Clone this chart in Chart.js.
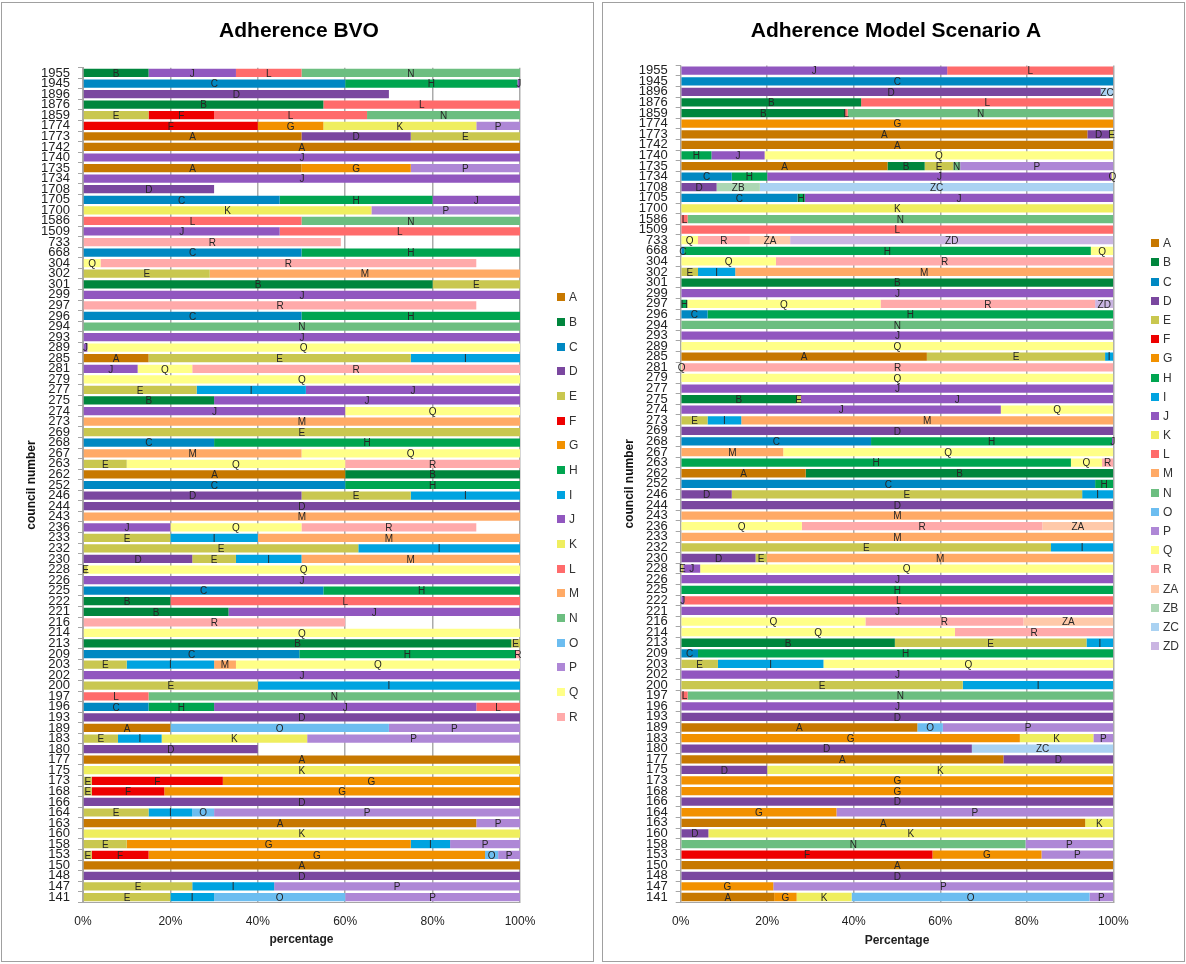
<!DOCTYPE html>
<html>
<head>
<meta charset="utf-8">
<title>Adherence</title>
<script src="https://cdn.jsdelivr.net/npm/chart.js@4/dist/chart.umd.min.js"></script>
<style>
  html, body { margin: 0; padding: 0; background: #fff; }
  body { width: 1186px; height: 964px; position: relative; overflow: hidden;
         font-family: "Liberation Sans", Arial, sans-serif; }
  .panel { position: absolute; top: 2px; height: 958px; border: 1px solid #a0a0a0; background: #fff; }
  #panelBvo { left: 1px; width: 591px; }
  #panelScen { left: 602px; width: 581px; }
  .panel canvas { position: absolute; left: 0; top: 0; }
  .legend { position: absolute; font-size: 12px; color: #333; }
  .legend .item { position: absolute; left: 0; height: 12px; line-height: 12px; white-space: nowrap; }
  .legend .sw { position: absolute; left: 0; top: 2px; width: 8px; height: 8px; }
  .legend .tx { position: absolute; left: 12px; top: 0; }
</style>
</head>
<body>
<div class="panel" id="panelBvo"><canvas id="chartBvo" width="591" height="958"></canvas></div>
<div class="panel" id="panelScen"><canvas id="chartScen" width="581" height="958"></canvas></div>
<div class="legend" id="legendBvo" style="left:557px;top:0;"></div>
<div class="legend" id="legendScen" style="left:1151px;top:0;"></div>
<script>
// Council numbers, top row first
const COUNCILS = ['1955','1945','1896','1876','1859','1774','1773','1742','1740','1735','1734','1708','1705','1700','1586','1509','733','668','304','302','301','299','297','296','294','293','289','285','281','279','277','275','274','273','269','268','267','263','262','252','246','244','243','236','233','232','230','228','226','225','222','221','216','214','213','209','203','202','200','197','196','193','189','183','180','177','175','173','168','166','164','163','160','158','153','150','148','147','141'];

// Category letters of each chart, in stacking order
const BVO_SERIES = ['A','B','C','D','E','F','G','H','I','J','K','L','M','N','O','P','Q','R'];
const SCEN_SERIES = ['A','B','C','D','E','F','G','H','I','J','K','L','M','N','O','P','Q','R','ZA','ZB','ZC','ZD'];

const SERIES_COLORS = {
  A:'#C77800', B:'#00863D', C:'#0088C2', D:'#7A479F', E:'#C9C74F', F:'#EE0000',
  G:'#F29100', H:'#00A550', I:'#00A3E0', J:'#9157BF', K:'#EFEE5F', L:'#FF6B6B',
  M:'#FFAA66', N:'#6CBE80', O:'#6CBDF0', P:'#AE87D6', Q:'#FFFF88', R:'#FFAAAA',
  ZA:'#FFC9A9', ZB:'#ACD7B4', ZC:'#AAD2F2', ZD:'#CAB5E2'
};

const PERCENT_TICK_STEP = 20;

// Percentage per category for each council (same order as COUNCILS)
const BVO_ROWS = [
  'B15 J20 L15 N50',          // 1955
  'C60 H39.4 J0.6',           // 1945
  'D70',                      // 1896
  'B55 L45',                  // 1876
  'E15 F15 L35 N35',          // 1859
  'F40 G15 K35 P10',          // 1774
  'A50 D25 E25',              // 1773
  'A100',                     // 1742
  'J100',                     // 1740
  'A50 G25 P25',              // 1735
  'J100',                     // 1734
  'D30',                      // 1708
  'C45 H35 J20',              // 1705
  'K66 P34',                  // 1700
  'L50 N50',                  // 1586
  'J45 L55',                  // 1509
  'R59',                      // 733
  'C50 H50',                  // 668
  'Q4 R86',                   // 304
  'E29 M71',                  // 302
  'B80 E20',                  // 301
  'J100',                     // 299
  'R90',                      // 297
  'C50 H50',                  // 296
  'N100',                     // 294
  'J100',                     // 293
  'J1 Q99',                   // 289
  'A15 E60 I25',              // 285
  'J12.5 Q12.5 R75',          // 281
  'Q100',                     // 279
  'E26 I25 J49',              // 277
  'B30 J70',                  // 275
  'J60 Q40',                  // 274
  'M100',                     // 273
  'E100',                     // 269
  'C30 H70',                  // 268
  'M50 Q50',                  // 267
  'E10 Q50 R40',              // 263
  'A60 B40',                  // 262
  'C60 H40',                  // 252
  'D50 E25 I25',              // 246
  'D100',                     // 244
  'M100',                     // 243
  'J20 Q30 R40',              // 236
  'E20 I20 M60',              // 233
  'E63 I37',                  // 232
  'D25 E10 I15 M50',          // 230
  'E1 Q99',                   // 228
  'J100',                     // 226
  'C55 H45',                  // 225
  'B20 L80',                  // 222
  'B33.3 J66.7',              // 221
  'R60',                      // 216
  'Q100',                     // 214
  'B98 E2',                   // 213
  'C49.5 H49.5 R1',           // 209
  'E10 I20 M5 Q65',           // 203
  'J100',                     // 202
  'E40 I60',                  // 200
  'L15 N85',                  // 197
  'C15 H15 J60 L10',          // 196
  'D100',                     // 193
  'A20 O50 P30',              // 189
  'E8 I10 K33.3 P48.7',       // 183
  'D40',                      // 180
  'A100',                     // 177
  'K100',                     // 175
  'E2 F30 G68',               // 173
  'E2 F16.6 G81.4',           // 168
  'D100',                     // 166
  'E15 I10 O5 P70',           // 164
  'A90 P10',                  // 163
  'K100',                     // 160
  'E10 G65 I9 P16',           // 158
  'E2 F13 G77 O3 P5',         // 153
  'A100',                     // 150
  'D100',                     // 148
  'E25 I18.75 P56.25',        // 147
  'E20 I10 O30 P40'           // 141
];

const SCEN_ROWS = [
  'J61.6 L38.4',              // 1955
  'C100',                     // 1945
  'D97.1 ZC2.9',              // 1896
  'B41.7 L58.3',              // 1876
  'B38 L0.6 N61.4',           // 1859
  'G100',                     // 1774
  'A94 D5.2 E0.8',            // 1773
  'A100',                     // 1742
  'H7.1 J12.3 Q80.6',         // 1740
  'A47.8 B8.6 E6.6 N1.6 P35.4', // 1735
  'C11.8 H8.2 J79.6 Q0.4',    // 1734
  'D8.3 ZB10 ZC81.7',         // 1708
  'C27 H1.7 J71.3',           // 1705
  'K100',                     // 1700
  'L1.6 N98.4',               // 1586
  'L100',                     // 1509
  'Q4 R12 ZA9.3 ZD74.7',      // 733
  'C0.8 H94 Q5.2',            // 668
  'Q22 R78',                  // 304
  'E4 I8.6 M87.4',            // 302
  'B100',                     // 301
  'J100',                     // 299
  'H1.5 Q44.7 R49.6 ZD4.2',   // 297
  'C6.2 H93.8',               // 296
  'N100',                     // 294
  'J100',                     // 293
  'Q100',                     // 289
  'A56.9 E41.2 I1.9',         // 285
  'Q0.3 R99.7',               // 281
  'Q100',                     // 279
  'J100',                     // 277
  'B26.7 E1.1 J72.2',         // 275
  'J74 Q26',                  // 274
  'E6.2 I7.8 M86',            // 273
  'D100',                     // 269
  'C44 H55.7 J0.3',           // 268
  'M23.7 Q76.3',              // 267
  'H90.2 Q7.2 R2.6',          // 263
  'A28.9 B71.1',              // 262
  'C95.8 H4.2',               // 252
  'D11.8 E81 I7.2',           // 246
  'D100',                     // 244
  'M100',                     // 243
  'Q28 R55.6 ZA16.4',         // 236
  'M100',                     // 233
  'E85.6 I14.4',              // 232
  'D17.3 E2.6 M80.1',         // 230
  'E0.6 J3.9 Q95.5',          // 228
  'J100',                     // 226
  'H100',                     // 225
  'J0.8 L99.2',               // 222
  'J100',                     // 221
  'Q42.7 R36.5 ZA20.8',       // 216
  'Q63.4 R36.6',              // 214
  'B49.5 E44.3 I6.2',         // 213
  'C4 H96',                   // 209
  'E8.6 I24.4 Q67',           // 203
  'J100',                     // 202
  'E65.2 I34.8',              // 200
  'L1.6 N98.4',               // 197
  'J100',                     // 196
  'D100',                     // 193
  'A54.7 O5.9 P39.4',         // 189
  'G78.4 K17 P4.6',           // 183
  'D67.3 ZC32.7',             // 180
  'A74.6 D25.4',              // 177
  'D20 K80',                  // 175
  'G100',                     // 173
  'G100',                     // 168
  'D100',                     // 166
  'G36 P64',                  // 164
  'A93.5 K6.5',               // 163
  'D6.4 K93.6',               // 160
  'N79.7 P20.3',              // 158
  'F58.2 G25.2 P16.6',        // 153
  'A100',                     // 150
  'D100',                     // 148
  'G21.4 P78.6',              // 147
  'A21.6 G5.2 K12.7 O55 P5.5' // 141
];

const FONT_FAMILY = '"Liberation Sans", Arial, sans-serif';
Chart.defaults.font.family = FONT_FAMILY;

// Turn the row strings into one value list per category letter
function buildDatasets(rows, series) {
  const parsed = rows.map(r => {
    const m = {};
    r.trim().split(/\s+/).forEach(tok => {
      const hit = tok.match(/^([A-Z]+)([\d.]+)$/);
      if (hit) m[hit[1]] = parseFloat(hit[2]);
    });
    return m;
  });
  return series.map(s => ({
    label: s,
    data: parsed.map(m => m[s] || 0),
    backgroundColor: SERIES_COLORS[s],
    borderWidth: 0,
    yAxisID: 'y',
    stack: 'share'
  }));
}

// Writes each category letter in the middle of its bar segment
const segmentLabels = {
  id: 'segmentLabels',
  afterDatasetsDraw(chart) {
    const ctx = chart.ctx;
    ctx.save();
    ctx.font = '10px ' + FONT_FAMILY;
    ctx.fillStyle = '#262626';
    ctx.textAlign = 'center';
    ctx.textBaseline = 'middle';
    chart.data.datasets.forEach((ds, di) => {
      const meta = chart.getDatasetMeta(di);
      if (meta.hidden) return;
      meta.data.forEach((el, i) => {
        if (!ds.data[i]) return;
        const p = el.getProps(['x', 'base', 'y'], true);
        ctx.fillText(ds.label, (p.x + p.base) / 2, p.y + 1);
      });
    });
    ctx.restore();
  }
};

function makeChart(canvasId, rows, series, cfg) {
  return new Chart(document.getElementById(canvasId), {
    type: 'bar',
    data: { labels: COUNCILS, datasets: buildDatasets(rows, series) },
    plugins: [segmentLabels],
    options: {
      indexAxis: 'y',
      responsive: false,
      animation: false,
      devicePixelRatio: 1,
      layout: { padding: { left: cfg.padLeft, right: 0, top: 0, bottom: cfg.padBottom } },
      datasets: { bar: { barPercentage: 0.78, categoryPercentage: 1 } },
      plugins: {
        legend: { display: false },
        tooltip: { enabled: false },
        title: {
          display: true, text: cfg.title, color: '#000',
          font: { family: FONT_FAMILY, size: 21, weight: 'bold' },
          padding: { top: 16, bottom: cfg.titleGap }
        }
      },
      scales: {
        x: {
          stacked: true, min: 0, max: 100,
          ticks: { stepSize: PERCENT_TICK_STEP, callback: v => v + '%', color: '#222',
                   font: { size: 12 }, padding: 12.5, maxRotation: 0 },
          grid: { color: '#ababab', lineWidth: 1.5, drawTicks: false },
          border: { color: '#a6a6a6' },
          title: { display: true, text: cfg.xTitle, color: '#222',
                   font: { size: 12, weight: 'bold' }, padding: { top: 4, bottom: 4 } },
          afterFit: s => { s.height = cfg.xHeight; }
        },
        y: {
          stacked: true,
          ticks: { autoSkip: false, color: '#222', font: { size: 13 }, padding: 8 },
          grid: { drawOnChartArea: false, tickLength: 5, color: '#a6a6a6' },
          border: { color: '#a6a6a6' },
          title: { display: true, text: 'council number', color: '#111',
                   font: { size: 12, weight: 'bold' }, padding: { top: cfg.yTitleGap, bottom: 4 } },
          afterFit: s => { s.width = cfg.yWidth; }
        },
        // empty right-hand band that keeps room for the key list
        keyBand: {
          type: 'category', axis: 'y', position: 'right', display: true,
          ticks: { display: false },
          grid: { display: false, drawTicks: false },
          border: { display: false },
          afterFit: s => { s.width = cfg.keyWidth; }
        }
      }
    }
  });
}

makeChart('chartBvo', BVO_ROWS, BVO_SERIES, {
  title: 'Adherence BVO', xTitle: 'percentage',
  padLeft: 3, padBottom: 9.8, titleGap: 23.5, xHeight: 48.9,
  yWidth: 78, yTitleGap: 19.8, keyWidth: 73
});
makeChart('chartScen', SCEN_ROWS, SCEN_SERIES, {
  title: 'Adherence Model Scenario A', xTitle: 'Percentage',
  padLeft: 5, padBottom: 8.8, titleGap: 21.2, xHeight: 49.9,
  yWidth: 72.7, yTitleGap: 14.8, keyWidth: 70.7
});

// Vertical key lists beside each chart
function buildLegend(id, series, firstCenter, step) {
  const box = document.getElementById(id);
  series.forEach((s, i) => {
    const item = document.createElement('div');
    item.className = 'item';
    item.style.top = (firstCenter + i * step - 6) + 'px';
    const sw = document.createElement('span');
    sw.className = 'sw';
    sw.style.background = SERIES_COLORS[s];
    const tx = document.createElement('span');
    tx.className = 'tx';
    tx.textContent = s;
    item.appendChild(sw);
    item.appendChild(tx);
    box.appendChild(item);
  });
}
buildLegend('legendBvo', BVO_SERIES, 297.3, 24.67);
buildLegend('legendScen', SCEN_SERIES, 243.3, 19.18);
</script>
</body>
</html>
